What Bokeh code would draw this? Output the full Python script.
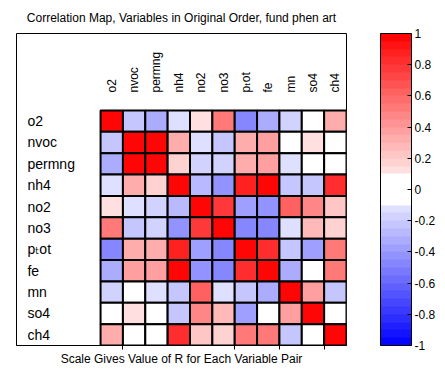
import numpy as np
from bokeh.plotting import figure
from bokeh.models import (ColumnDataSource, LinearColorMapper, ColorBar, FixedTicker,
                          CustomJSTickFormatter, Range1d)
from bokeh.core.properties import value
from bokeh.embed import file_html
from bokeh.resources import INLINE

FONT = "Liberation Sans, DejaVu Sans"

# ---- data ----
variables = ["o2", "nvoc", "permng", "nh4", "no2", "no3", "pₜot", "fe", "mn", "so4", "ch4"]

r_o2     = [1.00, -0.23, -0.30, -0.14, 0.14, 0.50, -0.47, -0.34, -0.19, 0.00, 0.34]
r_nvoc   = [-0.23, 1.00, 1.00, 0.30, -0.14, -0.25, 0.34, 0.40, 0.00, 0.12, 0.00]
r_permng = [-0.30, 1.00, 1.00, 0.20, -0.20, -0.20, 0.34, 0.40, -0.14, 0.00, 0.00]
r_nh4    = [-0.14, 0.30, 0.20, 1.00, -0.28, -0.44, 0.87, 0.95, -0.22, -0.25, 0.80]
r_no2    = [0.14, -0.14, -0.20, -0.28, 1.00, 0.75, -0.37, -0.42, 0.65, 0.47, 0.23]
r_no3    = [0.50, -0.25, -0.20, -0.44, 0.75, 1.00, -0.50, -0.50, -0.14, 0.28, 0.18]
r_ptot   = [-0.47, 0.34, 0.34, 0.87, -0.37, -0.50, 1.00, 0.82, -0.23, -0.39, 0.50]
r_fe     = [-0.34, 0.40, 0.40, 0.95, -0.42, -0.50, 0.82, 1.00, -0.31, 0.00, 0.50]
r_mn     = [-0.19, 0.00, -0.14, -0.22, 0.65, -0.14, -0.23, -0.31, 1.00, 0.38, -0.23]
r_so4    = [0.00, 0.12, 0.00, -0.25, 0.47, 0.28, -0.39, 0.00, 0.38, 1.00, 0.00]
r_ch4    = [0.34, 0.00, 0.00, 0.80, 0.23, 0.18, 0.50, 0.50, -0.23, 0.00, 1.00]

rows = [r_o2, r_nvoc, r_permng, r_nh4, r_no2, r_no3, r_ptot, r_fe, r_mn, r_so4, r_ch4]

scale_ticks = [-1, -0.8, -0.6, -0.4, -0.2, 0, 0.2, 0.4, 0.6, 0.8, 1]
axis_ticks = [1, 6, 8, 10]

title_text = "Correlation Map, Variables in Original Order, fund phen art"
xlabel_text = "Scale Gives Value of R for Each Variable Pair"


# ---- palette (blue - white - red, banded) ----
def band_color(v):
    if abs(v) < 0.1:
        return "#ffffff"
    if v > 0:
        c = int(round(255 * (1 - v)))
        return "#%02x%02x%02x" % (255, c, c)
    c = int(round(255 * (1 + v)))
    return "#%02x%02x%02x" % (c, c, 255)


edges = np.linspace(-1, 1, 41)
palette = [band_color((a + b) / 2) for a, b in zip(edges[:-1], edges[1:])]
mapper = LinearColorMapper(palette=palette, low=-1, high=1)

n = len(variables)
xs, ys, rs = [], [], []
for i, row in enumerate(rows):
    for j, r in enumerate(row):
        xs.append(j + 0.5)
        ys.append(n - i - 0.5)
        rs.append(r)
cells = ColumnDataSource(dict(x=xs, y=ys, r=rs))

p = figure(frame_width=330, frame_height=312,
           x_range=Range1d(-3.76, n), y_range=Range1d(0, n + 3.6),
           output_backend="svg", toolbar_location=None,
           min_border_left=16, min_border_top=0, min_border_bottom=0, min_border_right=0)

p.title.text = title_text
p.title.align = "center"
p.title.text_font = FONT
p.title.text_font_size = "12px"
p.title.text_font_style = "normal"
p.title.text_color = "black"
p.title.standoff = 17
p.title.text_baseline = "middle"

p.rect(x="x", y="y", width=1, height=1, source=cells,
       fill_color={"field": "r", "transform": mapper},
       line_color="black", line_width=2)

col_src = ColumnDataSource(dict(x=[j + 0.5 for j in range(n)], y=[n + 0.84] * n, t=variables))
p.text(x="x", y="y", text="t", source=col_src, angle=np.pi / 2,
       text_align="left", text_baseline="middle",
       text_font=value(FONT), text_font_size="12px", text_color="black")

row_src = ColumnDataSource(dict(x=[-3.27] * n, y=[n - i - 0.5 for i in range(n)], t=variables))
p.text(x="x", y="y", text="t", source=row_src,
       text_align="left", text_baseline="middle",
       text_font=value(FONT), text_font_size="14px", text_color="black")

p.grid.visible = False
p.yaxis.visible = False
p.outline_line_color = "black"
p.outline_line_width = 1

xa = p.xaxis[0]
xa.ticker = FixedTicker(ticks=axis_ticks, minor_ticks=[])
xa.formatter = CustomJSTickFormatter(code="return '';")
xa.major_label_text_font_size = "2px"
xa.major_label_standoff = 0
xa.major_tick_out = 4
xa.major_tick_in = 0
xa.minor_tick_line_color = None
xa.axis_line_color = "black"
xa.major_tick_line_color = "black"
xa.axis_label = xlabel_text
xa.axis_label_text_font = FONT
xa.axis_label_text_font_size = "12px"
xa.axis_label_text_font_style = "normal"
xa.axis_label_text_color = "black"
xa.axis_label_standoff = 2

cb = ColorBar(color_mapper=mapper, width=31,
              ticker=FixedTicker(ticks=scale_ticks, minor_ticks=[]),
              formatter=CustomJSTickFormatter(code="return tick.toFixed(1).replace(/\\.0$/, '');"),
              major_tick_in=4, major_tick_out=0, major_tick_line_color="black",
              minor_tick_line_color=None,
              bar_line_color="black", bar_line_width=1,
              label_standoff=3, major_label_text_font=FONT,
              major_label_text_font_size="12px", major_label_text_color="black",
              background_fill_alpha=0, border_line_color=None,
              padding=0, location=(34, 0))
p.add_layout(cb, "right")

open("out.html", "w").write(file_html(p, INLINE))
